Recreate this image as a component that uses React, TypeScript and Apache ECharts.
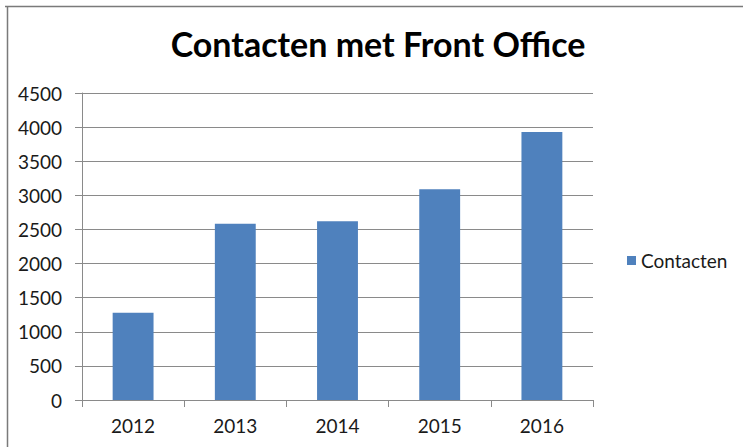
import React, { useEffect, useRef } from "react";
import * as echarts from "echarts";

const title = "Contacten met Front Office";
const seriesName = "Contacten";
const years = ["2012", "2013", "2014", "2015", "2016"];
const contacten = [1280, 2585, 2620, 3090, 3930];
const yMin = 0;
const yMax = 4500;
const yStep = 500;

const FONT = "Lato, 'Open Sans', sans-serif";

export default function App() {
  const ref = useRef<HTMLDivElement>(null);
  useEffect(() => {
    document.body.style.margin = "0";
    if (!ref.current) return;
    const chart = echarts.init(ref.current, undefined, { renderer: "svg" });
    chart.setOption({
      animation: false,
      backgroundColor: "#ffffff",
      title: {
        text: title,
        left: 373,
        top: 20,
        textAlign: "center",
        textStyle: {
          fontFamily: FONT,
          fontWeight: "bold",
          fontSize: 34,
          lineHeight: 36,
          color: "#000000",
        },
      },
      legend: {
        data: [seriesName],
        left: 627,
        top: 251,
        orient: "vertical",
        icon: "rect",
        itemWidth: 9,
        itemHeight: 9,
        padding: 0,
        textStyle: {
          fontFamily: FONT,
          fontSize: 19,
          lineHeight: 19,
          color: "#1a1a1a",
        },
      },
      grid: {
        left: 82,
        right: 150,
        top: 93,
        bottom: 47,
        containLabel: false,
      },
      xAxis: {
        type: "category",
        data: years,
        axisLine: { show: true, lineStyle: { color: "#8a8a8a", width: 1 } },
        axisTick: {
          show: true,
          alignWithLabel: false,
          length: 7,
          lineStyle: { color: "#8a8a8a" },
        },
        axisLabel: {
          margin: 16,
          fontFamily: FONT,
          fontSize: 19,
          color: "#1a1a1a",
        },
      },
      yAxis: {
        type: "value",
        min: yMin,
        max: yMax,
        interval: yStep,
        axisLine: { show: true, lineStyle: { color: "#8a8a8a", width: 1 } },
        axisTick: { show: true, length: 7, lineStyle: { color: "#8a8a8a" } },
        axisLabel: {
          margin: 20,
          fontFamily: FONT,
          fontSize: 19,
          color: "#1a1a1a",
          formatter: (v: number) => String(v),
        },
        splitLine: { show: true, lineStyle: { color: "#8a8a8a", width: 1 } },
      },
      series: [
        {
          name: seriesName,
          type: "bar",
          data: contacten,
          barWidth: "40%",
          itemStyle: { color: "#4f81bd" },
        },
      ],
      graphic: [
        {
          type: "line",
          shape: { x1: 5, y1: 6.5, x2: 743, y2: 6.5 },
          style: { stroke: "#7a7a7a", lineWidth: 1.5 },
        },
        {
          type: "line",
          shape: { x1: 7.5, y1: 6, x2: 7.5, y2: 447 },
          style: { stroke: "#7a7a7a", lineWidth: 1.5 },
        },
      ],
    });
    return () => chart.dispose();
  }, []);
  return <div ref={ref} style={{ width: 743, height: 447 }} />;
}
